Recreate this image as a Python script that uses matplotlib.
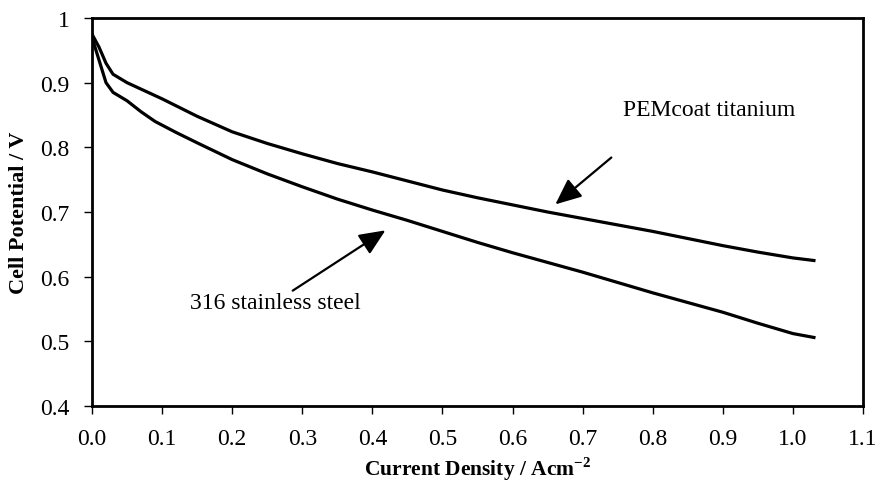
import matplotlib
matplotlib.use("Agg")
import matplotlib.pyplot as plt

plt.rcParams['font.family'] = ['Liberation Serif', 'DejaVu Serif']
plt.rcParams['mathtext.fontset'] = 'custom'
plt.rcParams['mathtext.rm'] = 'Liberation Serif'
plt.rcParams['mathtext.bf'] = 'Liberation Serif:bold'

# PEMcoat titanium
x_pem = [0.0, 0.01, 0.02, 0.03, 0.05, 0.08, 0.1, 0.15, 0.2, 0.25, 0.3, 0.35, 0.4, 0.45, 0.5,
         0.55, 0.6, 0.65, 0.7, 0.75, 0.8, 0.85, 0.9, 0.95, 1.0, 1.03]
y_pem = [0.975, 0.955, 0.93, 0.913, 0.9, 0.885, 0.875, 0.848, 0.824, 0.806, 0.79, 0.775, 0.762,
         0.748, 0.734, 0.722, 0.711, 0.7, 0.69, 0.68, 0.67, 0.659, 0.648, 0.638, 0.629, 0.625]
# 316 stainless steel
x_ss = [0.0, 0.01, 0.02, 0.03, 0.05, 0.07, 0.09, 0.12, 0.15, 0.2, 0.25, 0.3, 0.35, 0.4, 0.45,
        0.5, 0.55, 0.6, 0.65, 0.7, 0.75, 0.8, 0.85, 0.9, 0.95, 1.0, 1.03]
y_ss = [0.97, 0.935, 0.9, 0.885, 0.872, 0.855, 0.84, 0.823, 0.807, 0.781, 0.759, 0.739, 0.72,
        0.703, 0.687, 0.67, 0.653, 0.637, 0.622, 0.607, 0.591, 0.575, 0.56, 0.545, 0.528, 0.512, 0.506]

xticks = [0.0, 0.1, 0.2, 0.3, 0.4, 0.5, 0.6, 0.7, 0.8, 0.9, 1.0, 1.1]
xtick_labels = ['0.0', '0.1', '0.2', '0.3', '0.4', '0.5', '0.6', '0.7', '0.8', '0.9', '1.0', '1.1']
yticks = [0.4, 0.5, 0.6, 0.7, 0.8, 0.9, 1.0]
ytick_labels = ['0.4', '0.5', '0.6', '0.7', '0.8', '0.9', '1']

fig = plt.figure(figsize=(8.79, 4.89), dpi=100)
ax = fig.add_axes([92/879, 1 - 407/489, (863-92)/879, (407-19)/489])

ax.plot(x_pem, y_pem, color='black', lw=2.3)
ax.plot(x_ss, y_ss, color='black', lw=2.3)

ax.set_xlim(0, 1.1)
ax.set_ylim(0.4, 1.0)
ax.set_xticks(xticks)
ax.set_xticklabels(xtick_labels)
ax.set_yticks(yticks)
ax.set_yticklabels(ytick_labels)
ax.tick_params(direction='out', length=6, width=1, labelsize=17, pad=10)
for s in ax.spines.values():
    s.set_linewidth(2)

ax.set_xlabel('Current Density / Acm$^{\\mathbf{-2}}$', fontsize=15.5, fontweight='bold')
ax.xaxis.set_label_coords(0.5, -(455 - 407) / 388)
ax.set_ylabel('Cell Potential / V', fontsize=16, fontweight='bold')
ax.yaxis.set_label_coords((29 - 92) / 771, 0.5)

arrow = dict(arrowstyle='-|>,head_length=1.6,head_width=0.7', color='black', lw=1.6)
ax.annotate('', xy=(0.658, 0.709), xytext=(0.744, 0.787), arrowprops=arrow)
ax.annotate('', xy=(0.422, 0.674), xytext=(0.283, 0.576), arrowprops=arrow)
ax.text(0.880, 0.859, 'PEMcoat titanium', fontsize=17, ha='center', va='center')
ax.text(0.261, 0.560, '316 stainless steel', fontsize=17, ha='center', va='center')

fig.savefig('out.png', dpi=100)
